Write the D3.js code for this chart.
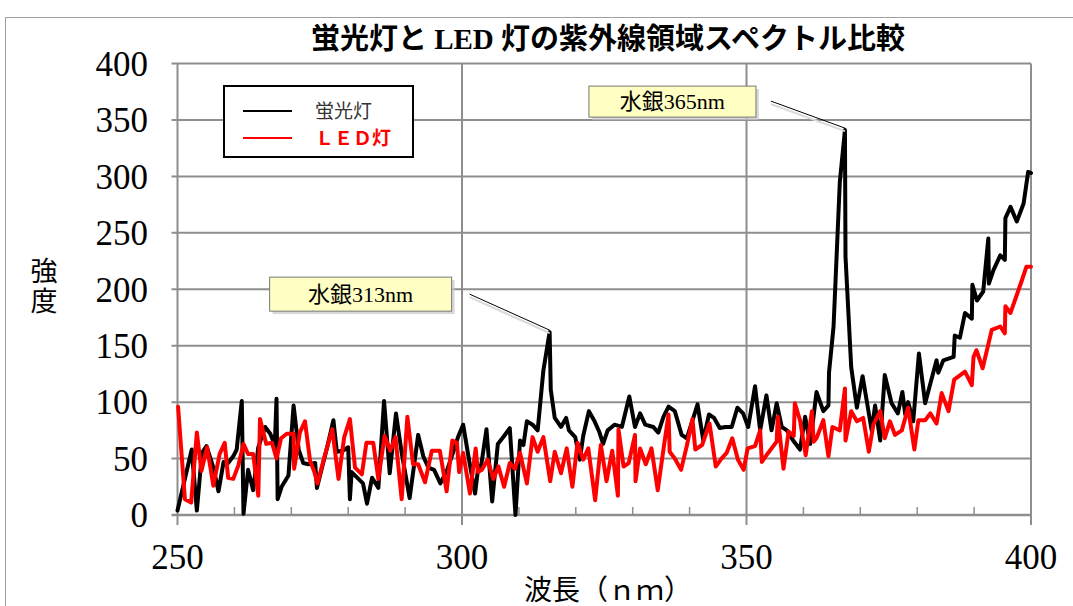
<!DOCTYPE html>
<html>
<head>
<meta charset="utf-8">
<script src="https://cdn.jsdelivr.net/npm/d3@7"></script>
<style>
  html, body { margin: 0; padding: 0; background: #fff; }
  svg { display: block; }
  .serif { font-family: "Liberation Serif", "Noto Sans CJK JP", serif; }
</style>
</head>
<body>
<svg id="chart" width="1073" height="606"></svg>
<script>
// 蛍光灯 (fluorescent lamp) spectrum: wavelength (nm) and intensity
const fluorWl = [250.0,252.5,253.4,254.3,255.1,256.3,257.2,258.1,258.9,259.8,260.4,261.3,261.6,262.4,263.3,264.2,265.4,266.3,267.1,267.4,267.6,268.3,269.5,270.4,271.3,272.1,273.0,274.2,274.5,275.4,276.4,277.4,278.0,279.1,280.0,280.3,280.6,281.8,282.6,283.3,284.2,285.3,286.3,287.3,288.4,289.4,290.8,292.3,293.2,294.1,295.1,296.2,297.4,298.4,299.3,300.2,301.2,302.3,302.8,303.4,304.3,305.3,306.3,307.4,308.4,309.4,310.2,310.8,311.4,312.4,313.3,314.3,315.4,315.6,316.3,317.4,318.3,318.8,319.9,320.7,321.3,322.3,323.2,324.1,324.8,325.6,326.8,328.1,329.4,330.4,331.3,332.2,333.6,334.5,335.4,336.3,337.4,338.6,339.5,340.4,341.4,342.4,343.4,344.3,345.3,346.3,347.4,348.4,349.4,350.3,351.5,352.4,353.5,354.4,355.3,356.2,357.1,358.2,359.4,360.3,361.2,362.3,363.5,364.4,364.5,365.3,366.4,367.3,367.4,368.4,369.4,370.4,371.4,372.0,372.6,373.5,374.3,375.5,376.6,377.4,377.9,378.4,379.3,380.3,381.4,382.5,383.4,383.7,384.6,386.4,386.6,387.5,388.4,389.6,389.7,390.5,391.6,392.5,392.6,393.4,394.6,395.4,395.5,396.4,397.5,398.7,399.5,400.0];
const fluorVal = [4,58,4,55,61,42,21,47,46,52,58,101,1,40,22,60,78,72,62,103,14,25,35,97,58,46,45,46,24,42,62,84,56,57,60,14,38,32,28,10,33,24,101,37,90,55,15,71,52,42,40,28,40,55,69,80,50,19,40,45,76,12,63,70,77,0,66,62,83,80,75,128,162,111,86,78,86,75,69,49,70,92,84,74,63,75,80,78,105,78,90,80,78,73,87,96,92,71,68,82,98,66,89,86,77,78,78,95,90,78,114,75,106,75,99,78,75,66,58,87,63,109,92,97,126,167,295,341,229,131,95,123,93,75,97,66,124,99,90,109,89,100,83,143,99,120,137,126,137,140,159,157,179,174,204,190,198,245,205,217,230,226,263,273,260,276,304,303];

// ＬＥＤ灯 spectrum: wavelength (nm) and intensity
const ledWl = [250.1,251.3,252.4,253.4,254.2,255.2,256.3,257.4,258.3,258.9,259.8,260.7,261.6,262.4,263.3,264.2,264.5,265.6,266.6,267.4,268.2,269.2,270.4,270.5,271.5,272.4,273.3,274.0,274.6,275.9,277.2,278.3,279.3,280.3,281.2,282.4,283.2,284.4,285.3,286.4,287.4,288.3,289.4,290.4,291.4,292.3,293.5,294.7,296.1,297.3,298.3,299.1,299.5,300.2,301.4,302.4,302.8,303.5,304.5,305.5,306.4,307.4,308.4,309.3,310.2,311.4,312.4,313.3,314.3,315.5,316.3,317.4,318.4,319.4,320.3,321.3,322.2,323.4,324.4,325.4,326.4,327.4,327.5,328.4,329.3,330.4,330.5,331.3,332.3,333.3,334.4,335.4,336.3,336.5,337.4,338.5,339.5,340.5,341.0,342.2,343.5,344.6,345.6,346.5,347.5,348.5,349.5,350.2,351.5,352.4,352.7,353.8,355.3,355.5,356.5,357.4,358.3,358.5,359.4,360.4,361.5,361.8,362.3,363.5,364.4,365.1,366.4,367.3,367.4,368.4,369.4,370.5,371.5,372.3,373.5,374.3,375.2,376.1,377.3,378.4,379.5,380.2,381.4,382.3,383.4,384.3,385.5,386.5,388.4,389.6,389.9,390.4,391.5,393.1,394.6,395.4,395.5,396.4,398.4,399.2,400.0];
const ledVal = [96,14,11,73,39,60,26,54,64,33,32,44,63,54,54,17,85,63,64,50,68,72,72,41,73,83,48,39,28,53,76,32,69,85,42,36,64,64,32,70,57,69,14,87,45,45,29,57,57,21,66,64,38,55,19,59,38,40,49,32,43,25,46,41,55,28,69,56,69,30,56,37,59,25,64,49,59,13,62,30,57,17,76,43,46,71,30,59,45,59,22,58,89,56,50,40,61,85,58,62,81,43,50,55,68,49,40,59,61,75,47,55,65,87,41,74,70,99,84,53,92,65,68,84,52,78,75,112,66,92,83,86,56,80,92,68,83,71,75,95,58,84,84,90,81,108,92,120,127,115,140,146,130,164,167,161,185,179,208,220,220];

// Axis ticks
const xTicks = [250, 300, 350, 400];
const xMinorTicks = [260, 270, 280, 290, 310, 320, 330, 340, 360, 370, 380, 390];
const yTicks = [0, 50, 100, 150, 200, 250, 300, 350, 400];

// Mercury line callouts
const calloutLabels = ["水銀313nm", "水銀365nm"];
const calloutWl = [315.4, 367.3];
const calloutVal = [162, 341];

const seriesNames = ["蛍光灯", "ＬＥＤ灯"];
const seriesColors = ["#000000", "#ff0000"];

const svg = d3.select("#chart");
const x = d3.scaleLinear().domain([250, 400]).range([177.5, 1031]);
const y = d3.scaleLinear().domain([0, 400]).range([515, 63.5]);
const gridColor = "#8e8e8e";

// outer frame
svg.append("rect").attr("x", 5.5).attr("y", 17.5).attr("width", 1080).attr("height", 600)
  .attr("fill", "none").attr("stroke", "#a0a0a0").attr("stroke-width", 1);

// title
svg.append("text").attr("class", "serif")
  .attr("x", 608).attr("y", 49).attr("text-anchor", "middle")
  .attr("font-size", 29).attr("font-weight", "bold").attr("fill", "#000")
  .text("蛍光灯と LED 灯の紫外線領域スペクトル比較");

// horizontal grid
svg.append("g").selectAll("line").data(yTicks.filter(d => d > 0)).join("line")
  .attr("x1", x(250) - 6).attr("x2", x(400))
  .attr("y1", d => y(d)).attr("y2", d => y(d))
  .attr("stroke", gridColor).attr("stroke-width", 2);

// vertical grid
svg.append("g").selectAll("line").data(xTicks.filter(d => d > 250)).join("line")
  .attr("x1", d => x(d)).attr("x2", d => x(d))
  .attr("y1", y(400)).attr("y2", y(0) + 10)
  .attr("stroke", gridColor).attr("stroke-width", 2);

// minor ticks on the wavelength axis
svg.append("g").selectAll("line").data(xMinorTicks).join("line")
  .attr("x1", d => x(d)).attr("x2", d => x(d))
  .attr("y1", y(0) - 8).attr("y2", y(0))
  .attr("stroke", gridColor).attr("stroke-width", 1.5);

// axes lines
svg.append("line").attr("x1", x(250)).attr("x2", x(250)).attr("y1", y(400)).attr("y2", y(0) + 10)
  .attr("stroke", gridColor).attr("stroke-width", 2);
svg.append("line").attr("x1", x(250) - 6).attr("x2", x(400)).attr("y1", y(0)).attr("y2", y(0))
  .attr("stroke", gridColor).attr("stroke-width", 2.5);

// tick labels
svg.append("g").selectAll("text").data(yTicks).join("text").attr("class", "serif")
  .attr("x", 148).attr("y", d => y(d)).attr("dy", "0.35em")
  .attr("text-anchor", "end").attr("font-size", 35).attr("fill", "#000")
  .text(d => d);
svg.append("g").selectAll("text").data(xTicks).join("text").attr("class", "serif")
  .attr("x", d => x(d)).attr("y", 569)
  .attr("text-anchor", "middle").attr("font-size", 35).attr("fill", "#000")
  .text(d => d);

// axis titles
svg.append("text").attr("class", "serif")
  .attr("x", 608).attr("y", 600).attr("text-anchor", "middle")
  .attr("font-size", 28).attr("fill", "#000").text("波長（ｎｍ）");
const yTitle = svg.append("text").attr("class", "serif")
  .attr("font-size", 27).attr("fill", "#000").attr("text-anchor", "middle");
["強", "度"].forEach((ch, i) => {
  yTitle.append("tspan").attr("x", 44).attr("y", 281 + i * 30).text(ch);
});

// series lines
const line = d3.line().x(d => x(d[0])).y(d => y(d[1]));
const series = [
  d3.zip(fluorWl, fluorVal),
  d3.zip(ledWl, ledVal)
];
series.forEach((pts, i) => {
  svg.append("path").datum(pts)
    .attr("d", line).attr("fill", "none")
    .attr("stroke", seriesColors[i]).attr("stroke-width", 4)
    .attr("stroke-linejoin", "round").attr("stroke-linecap", "round");
});

// legend
const lg = svg.append("g");
lg.append("rect").attr("x", 224).attr("y", 86).attr("width", 189).attr("height", 71)
  .attr("fill", "#fff").attr("stroke", "#000").attr("stroke-width", 2);
seriesNames.forEach((name, i) => {
  const ly = 111 + i * 27;
  lg.append("line").attr("x1", 243).attr("x2", 292).attr("y1", ly).attr("y2", ly)
    .attr("stroke", seriesColors[i]).attr("stroke-width", 2);
  lg.append("text").attr("x", 315).attr("y", ly).attr("dy", "0.35em")
    .attr("font-family", "'Noto Sans CJK JP', sans-serif")
    .attr("font-size", 19).attr("font-weight", i === 1 ? "bold" : "normal")
    .attr("fill", i === 0 ? "#333" : "#ff0000").text(name);
});

// callouts for the mercury emission lines
const calloutBoxes = [
  { dx: -280, dy: -55, w: 182, h: 34, lx: -80, ly: -38 },
  { dx: -256, dy: -44, w: 167, h: 31, lx: -74, ly: -29 }
];
calloutLabels.forEach((label, i) => {
  const px = x(calloutWl[i]), py = y(calloutVal[i]);
  const b = calloutBoxes[i];
  const g = svg.append("g");
  // leader line with soft shadow
  g.append("line").attr("x1", px + b.lx).attr("y1", py + b.ly + 3)
    .attr("x2", px).attr("y2", py + 1)
    .attr("stroke", "#d8d8d8").attr("stroke-width", 2);
  g.append("line").attr("x1", px + b.lx).attr("y1", py + b.ly)
    .attr("x2", px).attr("y2", py - 2)
    .attr("stroke", "#000").attr("stroke-width", 1);
  const bx = px + b.dx, by = py + b.dy;
  g.append("rect").attr("x", bx + 3).attr("y", by + 3).attr("width", b.w).attr("height", b.h)
    .attr("fill", "#c8c8c8").attr("opacity", 0.7);
  g.append("rect").attr("x", bx).attr("y", by).attr("width", b.w).attr("height", b.h)
    .attr("fill", "#ffffc4").attr("stroke", "#777").attr("stroke-width", 1);
  g.append("text").attr("class", "serif")
    .attr("x", bx + b.w / 2).attr("y", by + b.h / 2).attr("dy", "0.35em")
    .attr("text-anchor", "middle").attr("font-size", 22).attr("fill", "#000")
    .text(label);
});
</script>
</body>
</html>
